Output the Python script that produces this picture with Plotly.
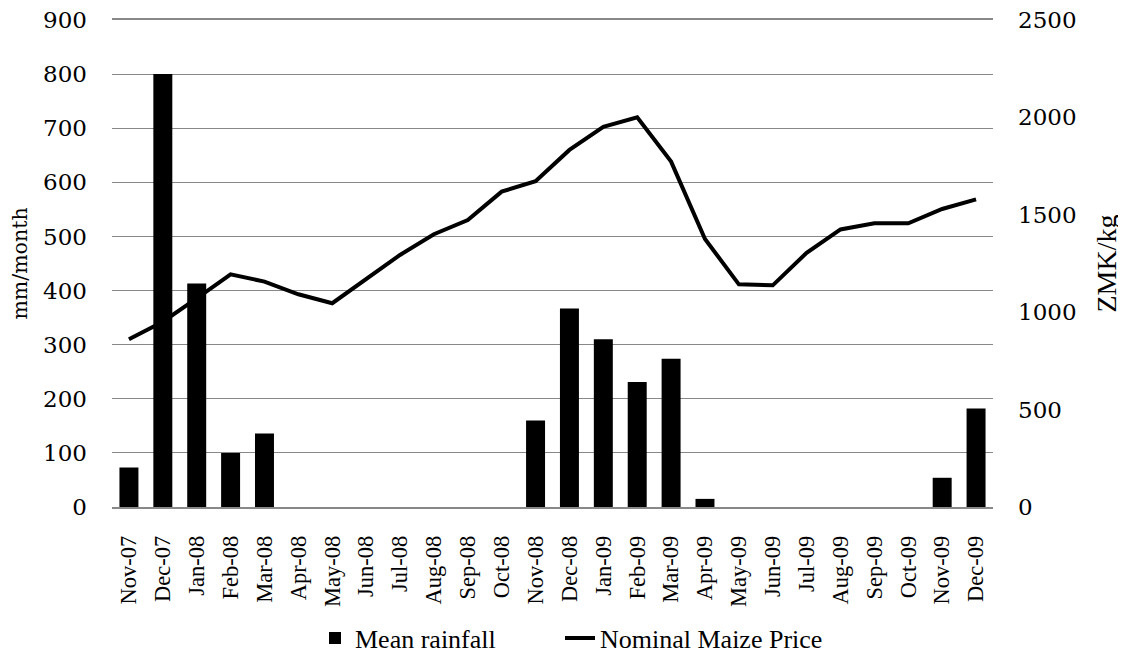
import plotly.graph_objects as go

months = ["Nov-07", "Dec-07", "Jan-08", "Feb-08", "Mar-08", "Apr-08", "May-08", "Jun-08",
          "Jul-08", "Aug-08", "Sep-08", "Oct-08", "Nov-08", "Dec-08", "Jan-09", "Feb-09",
          "Mar-09", "Apr-09", "May-09", "Jun-09", "Jul-09", "Aug-09", "Sep-09", "Oct-09",
          "Nov-09", "Dec-09"]
rainfall = [73, 800, 413, 100, 136, 0, 0, 0, 0, 0, 0, 0, 160, 367, 310, 231, 274, 15,
            0, 0, 0, 0, 0, 0, 54, 182]
price = [861, 951, 1071, 1194, 1157, 1092, 1046, 1169, 1294, 1400, 1473, 1619, 1673,
         1833, 1952, 2000, 1773, 1376, 1143, 1138, 1305, 1425, 1456, 1456, 1530, 1579]

FONT = "DejaVu Serif"
TIMES = "Liberation Serif"
L, R, T, B = 104, 141, 12, 158
PW = 1126 - L - R

fig = go.Figure()
fig.add_trace(go.Bar(x=months, y=rainfall, name="Mean rainfall", legend="legend",
                     marker=dict(color="black", line=dict(width=0))))
fig.add_trace(go.Scatter(x=months, y=price, name="Nominal Maize Price", yaxis="y2",
                         legend="legend2", mode="lines", line=dict(color="black", width=4)))

legend_common = dict(orientation="h", xanchor="left", y=0.041, yref="container",
                     yanchor="middle", font=dict(family=TIMES, size=26),
                     bgcolor="rgba(0,0,0,0)")

fig.update_layout(
    width=1126, height=657,
    margin=dict(l=L, r=R, t=T, b=B, autoexpand=False),
    plot_bgcolor="white", paper_bgcolor="white",
    font=dict(family=FONT, size=20, color="black"),
    bargap=0.44,
    showlegend=True,
    legend=dict(x=(307 - L) / PW, **legend_common),
    legend2=dict(x=(552 - L) / PW, **legend_common),
    xaxis=dict(tickangle=-90, showgrid=False, showline=True, mirror=True,
               linecolor="#888888", linewidth=1.5, ticks="",
               tickfont=dict(family=TIMES, size=22.5),
               automargin=False, ticklabelstandoff=18, ticklabeloverflow="allow"),
    yaxis=dict(range=[0, 900], tickvals=list(range(0, 1000, 100)), showgrid=True,
               gridcolor="#888888", gridwidth=1.2,
               zeroline=False, automargin=False, ticklabelstandoff=24,
               ticklabeloverflow="allow",
               title=dict(text="mm/month", standoff=11, font=dict(size=20.5)),
               ticks="", tickfont=dict(size=23)),
    yaxis2=dict(range=[0, 2500], tickvals=list(range(0, 3000, 500)), overlaying="y",
                side="right", showgrid=False, automargin=False, ticklabelstandoff=24,
                ticklabeloverflow="allow", zeroline=False,
                title=dict(text="ZMK/kg", standoff=20, font=dict(family=TIMES, size=28)),
                ticks="", tickfont=dict(size=23)),
)

fig.write_html("out.html")
